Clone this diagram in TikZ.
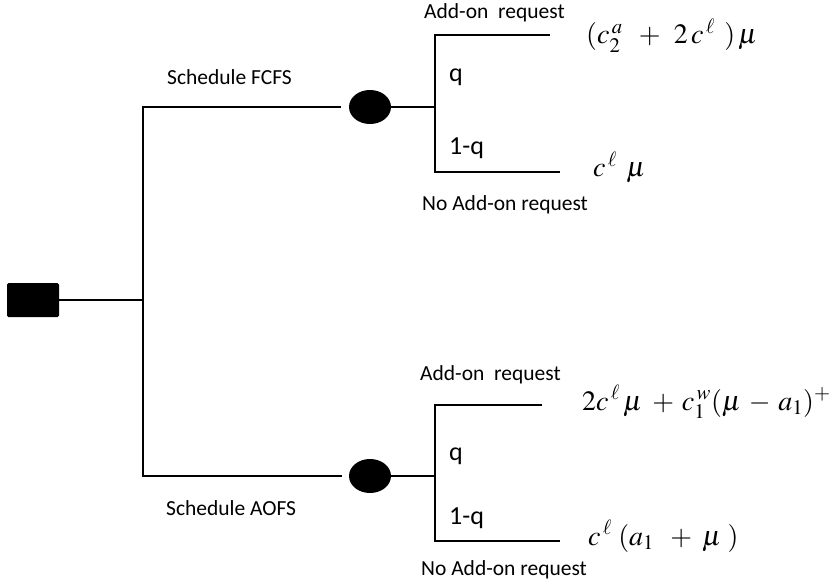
\documentclass[tikz,border=0pt]{standalone}
\usepackage{mathptmx}
\usepackage[no-math]{fontspec}
\setmainfont{Carlito}
\usetikzlibrary{shapes.geometric}
\tikzset{
  branch/.style={line width=2.8pt, line join=miter},
  decision/.style={rectangle, fill=black, minimum width=52pt, minimum height=34pt, rounded corners=1.5pt, inner sep=0pt},
  chance/.style={ellipse, fill=black, minimum width=42pt, minimum height=34pt, inner sep=0pt},
  lbl/.style={anchor=west, inner sep=0pt, font=\fontsize{21.5}{25}\selectfont},
  prob/.style={anchor=west, inner sep=0pt, font=\fontsize{26}{30}\selectfont},
  payoff/.style={anchor=base west, inner sep=0pt, font=\fontsize{28}{32}\selectfont}
}
\begin{document}
\begin{tikzpicture}[x=1pt,y=-1pt]
\useasboundingbox (0,0) rectangle (835,588);
% nodes
\node[decision] (root) at (33,300) {};
\node[chance] (ch1) at (370,107) {};
\node[chance] (ch2) at (370,476) {};
\coordinate (j0) at (143,300);
\coordinate (in1) at (341,107);
\coordinate (in2) at (342,476);
\coordinate (j1) at (435,107);
\coordinate (j2) at (435,476);
\coordinate (t1a) at (550,35);
\coordinate (t1b) at (560,172);
\coordinate (t2a) at (542,405);
\coordinate (t2b) at (560,541);
% connectors
\draw[branch] (root.east) -- (j0);
\draw[branch] (in1) -| (j0) |- (in2);
\draw[branch] (ch1.east) -- (j1);
\draw[branch] (t1a) -| (j1) |- (t1b);
\draw[branch] (ch2.east) -- (j2);
\draw[branch] (t2a) -| (j2) |- (t2b);
% labels
\node[lbl] (l1) at (424,13) {Add-on\ \ request};
\node[prob] (l2) at (449,77) {q};
\node[prob] (l3) at (449,148) {1-q};
\node[lbl] (l4) at (422,205) {No Add-on request};
\node[lbl] (l5) at (167,77) {Schedule FCFS};
\node[lbl] (l6) at (420,375) {Add-on\ \ request};
\node[prob] (l7) at (449,456) {q};
\node[prob] (l8) at (449,518) {1-q};
\node[lbl] (l9) at (421,570) {No Add-on request};
\node[lbl] (l10) at (166,508) {Schedule AOFS};
% payoffs
\node[payoff] (p1) at (586,44) {$(c^{\,a}_{2}\;\;+\;\,2\,c^{\,\ell}\;\,)\,\mu$};
\node[payoff] (p2) at (593,177) {$c^{\,\ell}\;\,\mu$};
\node[payoff] (p3) at (582,410) {$2c^{\,\ell}\,\mu\;+\:c^{\,w}_{1}(\mu\:-\:a_{1})^{+}$};
\node[payoff] (p4) at (588,545) {$c^{\,\ell}\;(a_{1}\;\;+\;\mu\;)$};
\end{tikzpicture}
\end{document}
